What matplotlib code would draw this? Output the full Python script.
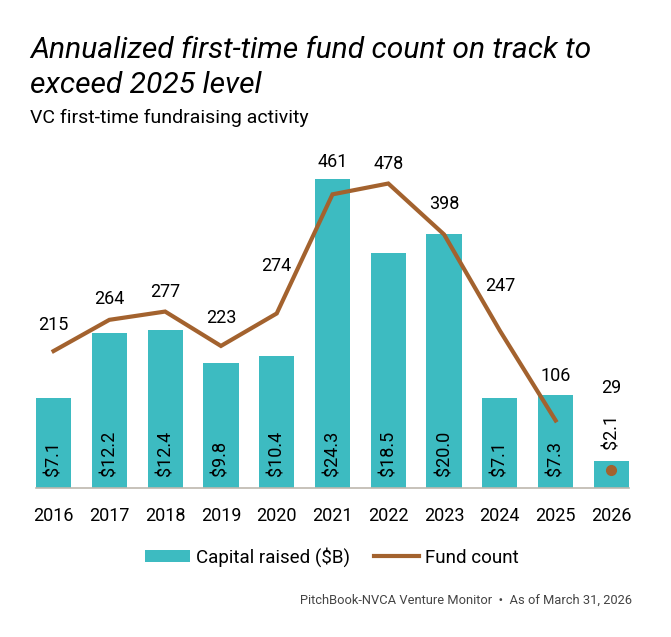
import matplotlib
matplotlib.use('Agg')
import matplotlib.pyplot as plt
from matplotlib.patches import Patch
from matplotlib.lines import Line2D

plt.rcParams['font.family'] = ['Roboto', 'DejaVu Sans']

# Data
years = ['2016', '2017', '2018', '2019', '2020', '2021', '2022', '2023', '2024', '2025', '2026']
capital = [7.1, 12.2, 12.4, 9.8, 10.4, 24.3, 18.5, 20.0, 7.1, 7.3, 2.1]
capital_labels = ['$7.1', '$12.2', '$12.4', '$9.8', '$10.4', '$24.3', '$18.5', '$20.0', '$7.1', '$7.3', '$2.1']
fund_count = [215, 264, 277, 223, 274, 461, 478, 398, 247, 106, 29]

# label offsets above the line point (points)
count_offsets = [19, 15, 14, 20, 34, 23, 14, 22, 32, 32, 59]

teal = '#3DBBC1'
brown = '#A3622E'

fig = plt.figure(figsize=(6.71, 6.37), dpi=100)
ax = fig.add_axes([36 / 671, 1 - 488 / 637, (629 - 36) / 671, (488 - 150) / 637])
ax2 = ax.twinx()

x = list(range(len(years)))
ax.bar(x, capital, width=0.63, color=teal, zorder=2)
ax.set_xlim(-0.315, len(years) - 1 + 0.315)
ax.set_ylim(0, 338 / 12.72)
ax2.set_ylim(0, 338 / 0.637)

# bar value labels: inside the bar, or above it when the bar is short
for i, (v, lab) in enumerate(zip(capital, capital_labels)):
    base = 0 if v > 4 else v
    ax.annotate(lab, (i, base), xytext=(0, 9), textcoords='offset points',
                rotation=90, ha='center', va='bottom', fontsize=13, color='black')

# fund count line (2026 partial year shown as a dot)
ax2.plot(x[:-1], fund_count[:-1], color=brown, linewidth=3, solid_joinstyle='miter', zorder=3)
ax2.plot(x[-1], fund_count[-1], 'o', color=brown, markersize=7, zorder=3)
for i, (v, off) in enumerate(zip(fund_count, count_offsets)):
    ax2.annotate(str(v), (i, v), xytext=(0, off), textcoords='offset points',
                 ha='center', va='center', fontsize=13, color='black')

for a in (ax, ax2):
    for s in ('top', 'right', 'left'):
        a.spines[s].set_visible(False)
    a.set_yticks([])
ax2.spines['bottom'].set_visible(False)
ax.spines['bottom'].set_color('#BDB8AE')
ax.spines['bottom'].set_linewidth(1.2)
ax.set_xticks(x)
ax.set_xticklabels(years, fontsize=13)
ax.tick_params(axis='x', length=0, pad=14)

# titles
fig.text(30 / 671, 1 - 50 / 637, 'Annualized first-time fund count on track to',
         fontsize=21.6, style='italic', ha='left', va='center')
fig.text(30 / 671, 1 - 85 / 637, 'exceed 2025 level',
         fontsize=21.6, style='italic', ha='left', va='center')
fig.text(30 / 671, 1 - 118 / 637, 'VC first-time fundraising activity', fontsize=14, ha='left', va='center')

handles = [Patch(facecolor=teal, label='Capital raised ($B)'),
           Line2D([0], [0], color=brown, linewidth=3, label='Fund count')]
fig.legend(handles=handles, loc='center', bbox_to_anchor=(332 / 671, 1 - 557 / 637), ncol=2,
           frameon=False, fontsize=13.5, handlelength=2.4, handleheight=0.6, columnspacing=1.3,
           handletextpad=0.3)

fig.text(632 / 671, 1 - 600 / 637, 'PitchBook-NVCA Venture Monitor  \u2022  As of March 31, 2026',
         fontsize=9.3, color='#444444', ha='right', va='center')

fig.savefig('out.png', dpi=100)
